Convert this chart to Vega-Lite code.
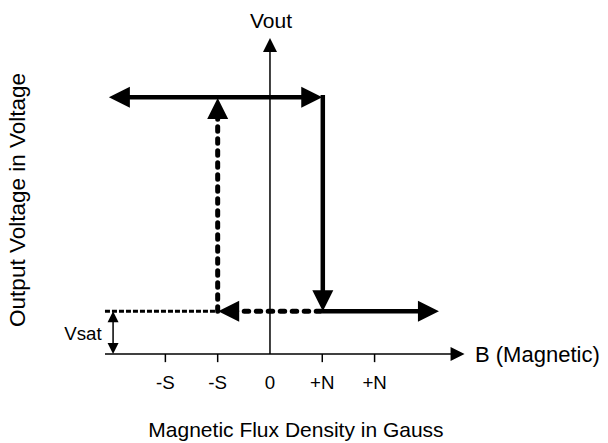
{
  "$schema": "https://vega.github.io/schema/vega-lite/v6.json",
  "width": 608,
  "height": 443,
  "padding": 0,
  "autosize": {"type": "fit", "contains": "padding"},
  "background": "white",
  "config": {"view": {"stroke": null}, "text": {"font": "Liberation Sans", "color": "black"}},
  "datasets": {
    "segs": [
      {"kind": "axis", "x": -3.155, "y": 0, "x2": 3.6, "y2": 0},
      {"kind": "axis", "x": 0, "y": 0, "x2": 0, "y2": 7.2},
      {"kind": "tick", "x": -2, "y": 0, "x2": -2, "y2": -0.19},
      {"kind": "tick", "x": -1, "y": 0, "x2": -1, "y2": -0.19},
      {"kind": "tick", "x": 1, "y": 0, "x2": 1, "y2": -0.19},
      {"kind": "tick", "x": 2, "y": 0, "x2": 2, "y2": -0.19},
      {"kind": "solid", "x": -2.9, "y": 6, "x2": 0.85, "y2": 6},
      {"kind": "solid", "x": 1.01, "y": 6.05, "x2": 1.01, "y2": 1.3},
      {"kind": "solid", "x": 1.0, "y": 1, "x2": 3.05, "y2": 1},
      {"kind": "dashed", "x": 0.97, "y": 1, "x2": -0.75, "y2": 1},
      {"kind": "dashed", "x": -1.0, "y": 1, "x2": -1.0, "y2": 5.7},
      {"kind": "dotted", "x": -3.155, "y": 1, "x2": -1.05, "y2": 1},
      {"kind": "vsat", "x": -3.0, "y": 0.1, "x2": -3.0, "y2": 0.9}
    ],
    "arrows": [
      {"kind": "big", "x": -3.08, "y": 6, "dir": "L"},
      {"kind": "big", "x": 1.0, "y": 6, "dir": "R"},
      {"kind": "big", "x": 1.01, "y": 1, "dir": "D"},
      {"kind": "big", "x": 3.23, "y": 1, "dir": "R"},
      {"kind": "big", "x": -0.99, "y": 1, "dir": "L"},
      {"kind": "big", "x": -1.0, "y": 5.98, "dir": "U"},
      {"kind": "axis", "x": 3.72, "y": 0, "dir": "R"},
      {"kind": "axis", "x": 0, "y": 7.383, "dir": "U"},
      {"kind": "small", "x": -3.0, "y": 1, "dir": "U"},
      {"kind": "small", "x": -3.0, "y": 0, "dir": "D"}
    ],
    "labels": [
      {"kind": "tick", "x": -2, "y": -0.678, "text": "-S"},
      {"kind": "tick", "x": -1, "y": -0.678, "text": "-S"},
      {"kind": "tick", "x": 0, "y": -0.678, "text": "0"},
      {"kind": "tick", "x": 1, "y": -0.678, "text": "+N"},
      {"kind": "tick", "x": 2, "y": -0.678, "text": "+N"},
      {"kind": "small", "x": -3.576, "y": 0.467, "text": "Vsat"},
      {"kind": "vout", "x": 0.02, "y": 7.757, "text": "Vout"},
      {"kind": "bname", "x": 3.92, "y": -0.02, "text": "B (Magnetic)"},
      {"kind": "xtitle", "x": 0.497, "y": -1.8, "text": "Magnetic Flux Density in Gauss"},
      {"kind": "ytitle", "x": -4.818, "y": 3.6, "text": "Output Voltage in Voltage"}
    ]
  },
  "encoding": {
    "x": {"field": "x", "type": "quantitative", "axis": null, "scale": {"domain": [-5.162, 6.463], "nice": false, "zero": false}},
    "y": {"field": "y", "type": "quantitative", "axis": null, "scale": {"domain": [-2.079, 8.271], "nice": false, "zero": false}}
  },
  "layer": [
    {
      "data": {"name": "segs"},
      "transform": [{"filter": "datum.kind === 'axis' || datum.kind === 'tick' || datum.kind === 'vsat'"}],
      "mark": {"type": "rule", "color": "black", "strokeWidth": 1.5},
      "encoding": {"x2": {"field": "x2"}, "y2": {"field": "y2"}}
    },
    {
      "data": {"name": "segs"},
      "transform": [{"filter": "datum.kind === 'solid'"}],
      "mark": {"type": "rule", "color": "black", "strokeWidth": 4.5},
      "encoding": {"x2": {"field": "x2"}, "y2": {"field": "y2"}}
    },
    {
      "data": {"name": "segs"},
      "transform": [{"filter": "datum.kind === 'dashed'"}],
      "mark": {"type": "rule", "color": "black", "strokeWidth": 5, "strokeDash": [4.5, 7.5], "strokeCap": "round"},
      "encoding": {"x2": {"field": "x2"}, "y2": {"field": "y2"}}
    },
    {
      "data": {"name": "segs"},
      "transform": [{"filter": "datum.kind === 'dotted'"}],
      "mark": {"type": "rule", "color": "black", "strokeWidth": 3, "strokeDash": [5, 2]},
      "encoding": {"x2": {"field": "x2"}, "y2": {"field": "y2"}}
    },
    {
      "data": {"name": "arrows"},
      "transform": [{"filter": "datum.kind === 'big'"}],
      "mark": {"type": "point", "filled": true, "color": "black", "opacity": 1, "strokeWidth": 0, "size": 441},
      "encoding": {
        "shape": {"field": "dir", "type": "nominal", "legend": null,
          "scale": {"domain": ["L", "R", "U", "D"], "range": ["M0,0L2,-1L2,1Z", "M0,0L-2,-1L-2,1Z", "M0,0L-1,2L1,2Z", "M0,0L-1,-2L1,-2Z"]}}
      }
    },
    {
      "data": {"name": "arrows"},
      "transform": [{"filter": "datum.kind === 'axis'"}],
      "mark": {"type": "point", "filled": true, "color": "black", "opacity": 1, "strokeWidth": 0, "size": 196},
      "encoding": {
        "shape": {"field": "dir", "type": "nominal", "legend": null,
          "scale": {"domain": ["R", "U"], "range": ["M0,0L-2,-0.86L-2,0.86Z", "M0,0L-0.86,2L0.86,2Z"]}}
      }
    },
    {
      "data": {"name": "arrows"},
      "transform": [{"filter": "datum.kind === 'small'"}],
      "mark": {"type": "point", "filled": true, "color": "black", "opacity": 1, "strokeWidth": 0, "size": 121},
      "encoding": {
        "shape": {"field": "dir", "type": "nominal", "legend": null,
          "scale": {"domain": ["U", "D"], "range": ["M0,0L-0.64,2L0.64,2Z", "M0,0L-0.64,-2L0.64,-2Z"]}}
      }
    },
    {
      "data": {"name": "labels"},
      "transform": [{"filter": "datum.kind === 'tick' || datum.kind === 'small'"}],
      "mark": {"type": "text", "fontSize": 18.7, "align": "center", "baseline": "middle"},
      "encoding": {"text": {"field": "text"}}
    },
    {
      "data": {"name": "labels"},
      "transform": [{"filter": "datum.kind === 'vout' || datum.kind === 'xtitle'"}],
      "mark": {"type": "text", "fontSize": 21, "align": "center", "baseline": "middle"},
      "encoding": {"text": {"field": "text"}}
    },
    {
      "data": {"name": "labels"},
      "transform": [{"filter": "datum.kind === 'bname'"}],
      "mark": {"type": "text", "fontSize": 22, "align": "left", "baseline": "middle"},
      "encoding": {"text": {"field": "text"}}
    },
    {
      "data": {"name": "labels"},
      "transform": [{"filter": "datum.kind === 'ytitle'"}],
      "mark": {"type": "text", "fontSize": 22.5, "align": "center", "baseline": "middle", "angle": 270},
      "encoding": {"text": {"field": "text"}}
    }
  ]
}
